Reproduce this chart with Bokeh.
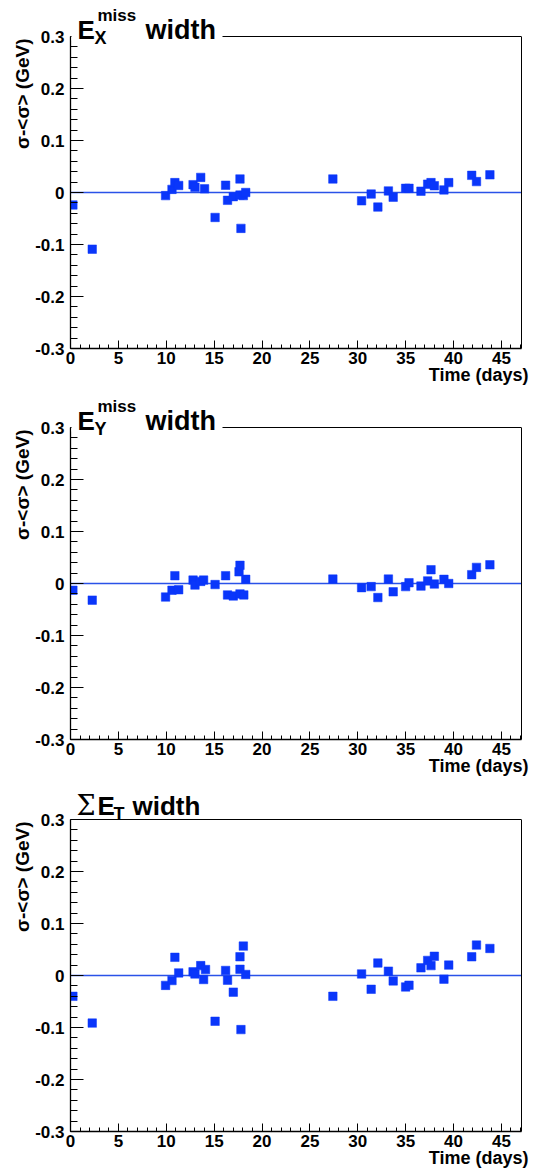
import numpy as np
from bokeh.plotting import figure
from bokeh.models import Label, Span, BoxAnnotation, FixedTicker, Range1d, LinearAxis, Title
from bokeh.layouts import column
from bokeh.embed import file_html
from bokeh.resources import INLINE

# ---------------- data ----------------
x_ticks = [0, 5, 10, 15, 20, 25, 30, 35, 40, 45]
x_tick_labels = ["0", "5", "10", "15", "20", "25", "30", "35", "40", "45"]
y_ticks = [-0.3, -0.2, -0.1, 0.0, 0.1, 0.2, 0.3]
y_tick_labels = ["-0.3", "-0.2", "-0.1", "0", "0.1", "0.2", "0.3"]

time_ex = [0.25, 2.27, 9.93, 10.6, 10.9, 11.3, 12.8, 13.0, 13.6, 14.0, 15.1, 16.2, 16.4,
           17.0, 17.7, 17.8, 17.7, 18.05, 18.3, 27.4, 30.4, 31.4, 32.1, 33.2, 33.7, 35.0,
           35.35, 36.6, 37.3, 37.65, 38.0, 39.0, 39.5, 41.9, 42.4, 43.8]
ex_width = [-0.024, -0.109, -0.006, 0.006, 0.019, 0.0135, 0.015, 0.010, 0.029, 0.007,
            -0.048, 0.014, -0.015, -0.008, 0.026, -0.069, -0.005, -0.006, 0.0, 0.026,
            -0.016, -0.003, -0.028, 0.003, -0.009, 0.008, 0.008, 0.0025, 0.016, 0.019,
            0.013, 0.005, 0.019, 0.033, 0.021, 0.034]

time_ey = [0.25, 2.27, 9.93, 10.6, 10.9, 11.3, 12.8, 13.0, 13.6, 13.9, 15.1, 16.2, 16.4,
           17.0, 17.6, 17.7, 17.7, 18.1, 18.3, 27.4, 30.4, 31.4, 32.1, 33.2, 33.7, 35.0,
           35.35, 36.6, 37.3, 37.65, 38.0, 39.0, 39.5, 41.9, 42.4, 43.8]
ey_width = [-0.013, -0.032, -0.026, -0.013, 0.015, -0.012, 0.0065, -0.003, 0.004, 0.0065,
            -0.002, 0.015, -0.022, -0.024, 0.0225, 0.035, -0.02, -0.022, 0.008, 0.0085,
            -0.008, -0.006, -0.027, 0.0085, -0.016, -0.006, 0.0015, -0.005, 0.005, 0.0265,
            -0.001, 0.008, 0.0, 0.017, 0.031, 0.036]

time_set = [0.25, 2.27, 9.93, 10.6, 10.9, 11.3, 12.8, 13.0, 13.6, 13.9, 14.1, 15.1, 16.2,
            16.4, 17.0, 17.7, 17.7, 17.8, 18.05, 18.3, 27.4, 30.4, 31.4, 32.1, 33.2, 33.7,
            35.0, 35.35, 36.6, 37.3, 37.65, 38.0, 39.0, 39.5, 41.9, 42.4, 43.8]
set_width = [-0.040, -0.0915, -0.019, -0.0097, 0.035, 0.005, 0.007, 0.003, 0.019, -0.0077,
             0.0115, -0.088, 0.0097, -0.009, -0.032, 0.036, 0.012, -0.104, 0.0565, 0.002,
             -0.040, 0.003, -0.0265, 0.024, 0.0083, -0.0104, -0.022, -0.0187, 0.0147, 0.029,
             0.019, 0.037, -0.007, 0.020, 0.036, 0.0585, 0.052]

y_title = "σ-<σ> (GeV)"
x_title = "Time (days)"

# ---------------- layout constants ----------------
XMIN, XMAX = 0.0, 47.1
YMIN, YMAX = -0.3, 0.3
FRAME_W, FRAME_H = 451, 312
PPX = FRAME_W / (XMAX - XMIN)
PPY = FRAME_H / (YMAX - YMIN)
FONT = "Liberation Sans"
MARKER_COLOR = "#0a36fa"
LINE_COLOR = "#2a52e8"


def xd(px):
    """pixels from frame left -> data x"""
    return XMIN + px / PPX


def yd_top(px_above):
    """pixels above the y=0.3 line -> data y"""
    return YMAX + px_above / PPY


def make_panel(xs, ys, title_parts, top_px, bottom_px, cover_title):
    y_end = YMAX + top_px / PPY
    p = figure(frame_width=FRAME_W, frame_height=FRAME_H + top_px,
               x_range=Range1d(XMIN, XMAX), y_range=Range1d(YMIN, y_end),
               output_backend="svg", toolbar_location=None,
               min_border_left=70, min_border_right=12,
               min_border_top=0, min_border_bottom=bottom_px)
    p.grid.visible = False
    p.outline_line_color = None
    p.background_fill_color = "white"
    p.border_fill_color = "white"

    # main axes
    p.xaxis.ticker = FixedTicker(ticks=x_ticks, minor_ticks=list(range(0, 48)))
    p.xaxis.major_label_overrides = {t: s for t, s in zip(x_ticks, x_tick_labels)}
    p.yaxis.ticker = FixedTicker(ticks=y_ticks,
                                 minor_ticks=[round(v, 2) for v in np.arange(-0.3, 0.301, 0.02)])
    p.yaxis.major_label_overrides = {t: s for t, s in zip(y_ticks, y_tick_labels)}
    p.yaxis.bounds = (YMIN, YMAX)
    for ax in (p.xaxis, p.yaxis):
        ax.axis_line_color = "black"
        ax.axis_line_width = 1.3
        ax.major_tick_line_color = "black"
        ax.minor_tick_line_color = "black"
        ax.major_tick_out = 0
        ax.minor_tick_out = 0
        ax.major_label_text_font = FONT
        ax.major_label_text_font_style = "bold"
        ax.major_label_text_font_size = "17px"
        ax.major_label_text_color = "black"
    p.yaxis.major_tick_in = 13
    p.yaxis.minor_tick_in = 7
    p.yaxis.major_label_standoff = 6
    p.xaxis.major_tick_in = 8
    p.xaxis.minor_tick_in = 4
    p.xaxis.major_label_standoff = 3

    # right frame line
    right = LinearAxis(bounds=(YMIN, YMAX), ticker=FixedTicker(ticks=[]),
                       axis_line_color="black", axis_line_width=1,
                       major_tick_line_color=None, minor_tick_line_color=None,
                       major_label_text_font_size="0px")
    p.add_layout(right, "right")
    # top frame line
    p.add_layout(Span(location=YMAX, dimension="width", line_color="black",
                      line_width=1, level="underlay"))

    # axis titles placed at the ends of the axes (ROOT style)
    p.add_layout(Title(text=y_title, align="right", offset=top_px + 2, standoff=0,
                       text_font=FONT, text_font_style="bold", text_font_size="19px",
                       text_color="black"), "left")
    p.add_layout(Title(text=x_title, align="right", offset=-7, standoff=-7,
                       text_font=FONT, text_font_style="bold", text_font_size="18px",
                       text_color="black"), "below")

    # zero reference line
    p.add_layout(Span(location=0, dimension="width", line_color=LINE_COLOR,
                      line_width=1.6, level="underlay"))

    p.scatter(xs, ys, marker="square", size=8.5, fill_color=MARKER_COLOR,
              line_color=MARKER_COLOR, line_width=0.5)

    # title box (hides part of the top frame line like in ROOT)
    if cover_title:
        p.add_layout(BoxAnnotation(left=xd(1), right=xd(152), top=y_end,
                                   bottom=yd_top(-4), fill_color="white", fill_alpha=1.0,
                                   line_color=None, level="annotation"))
    for text, px_left, px_above, size, font, style in title_parts:
        p.add_layout(Label(x=xd(px_left), y=yd_top(px_above), text=text,
                           text_font=font, text_font_style=style,
                           text_font_size=f"{size}px", text_color="black",
                           text_align="left", text_baseline="alphabetic"))
    return p


title_ex = [("E", 7, 7, 26, FONT, "bold"), ("miss", 27, 21, 17, FONT, "bold"),
            ("X", 24, -1, 18, FONT, "bold"), ("width", 75, 7, 27, FONT, "bold")]
title_ey = [("E", 7, 7, 26, FONT, "bold"), ("miss", 27, 21, 17, FONT, "bold"),
            ("Y", 24, -1, 18, FONT, "bold"), ("width", 75, 7, 27, FONT, "bold")]
title_set = [("Σ", 6, 14, 27, "DejaVu Serif", "normal"), ("E", 27, 14, 26, FONT, "bold"),
             ("T", 43, 6, 18, FONT, "bold"), ("width", 62, 14, 26, FONT, "bold")]

p1 = make_panel(time_ex, ex_width, title_ex, 36, 43, True)
p2 = make_panel(time_ey, ey_width, title_ey, 36, 43, True)
p3 = make_panel(time_set, set_width, title_set, 37, 40, False)

layout = column(p1, p2, p3, spacing=0)
open("out.html", "w").write(file_html(layout, INLINE))
